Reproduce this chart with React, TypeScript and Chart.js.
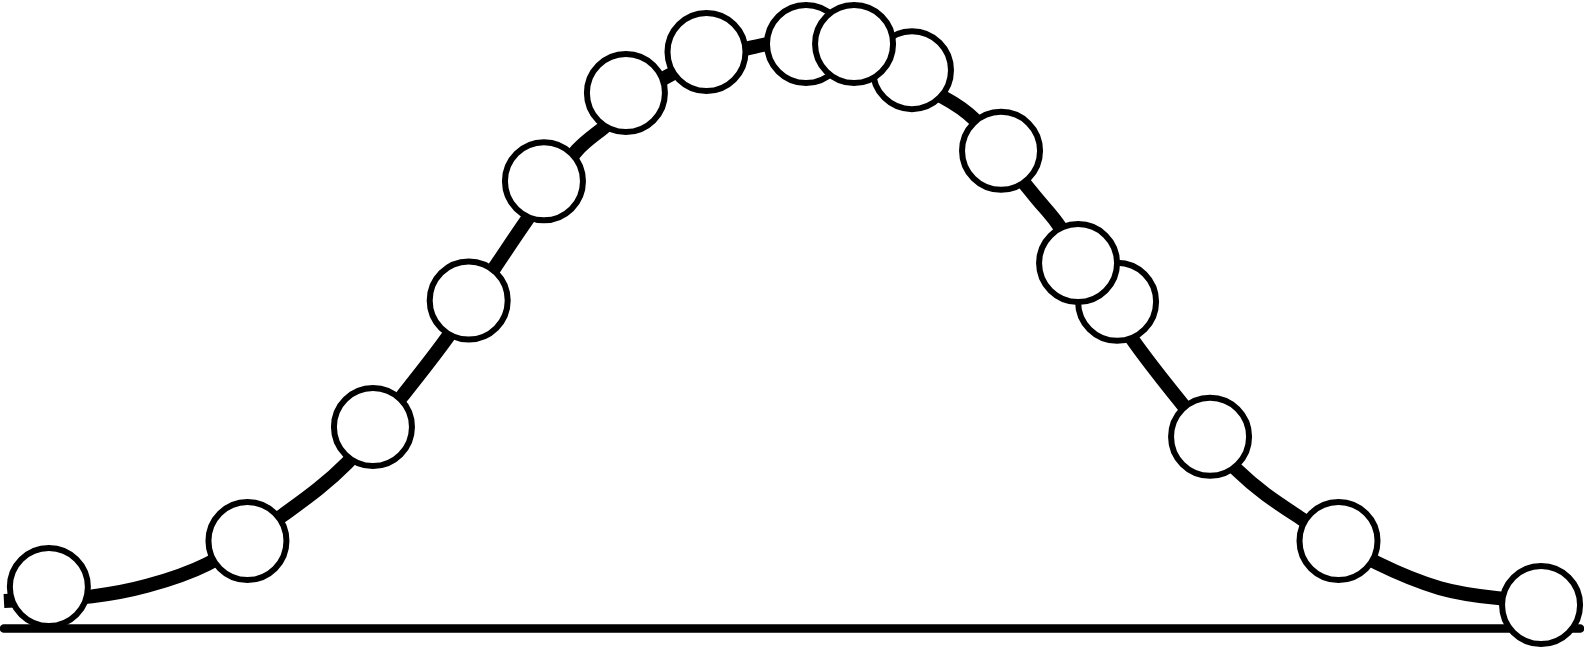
import React, { useEffect, useRef } from "react";
import { Chart, registerables } from "chart.js";

Chart.register(...registerables);

// Smooth curve (x: position units, y: height units)
const curveX = [-4.0, -3.553, -3.274, -2.97, -2.584, -2.259, -1.975, -1.751, -1.508, -1.345, -1.091, -0.959, -0.64, -0.178, 0.0, 0.766, 0.929, 1.183, 1.249, 1.345, 1.731, 1.985, 2.259, 2.594, 2.97, 3.289, 3.584, 4.0];
const curveY = [4.7, 5.5, 7.3, 11.0, 19.4, 28.3, 39.9, 49.7, 61.8, 69.9, 81.8, 85.6, 94.3, 99.6, 100.4, 90.9, 87.0, 76.0, 73.3, 69.4, 49.3, 38.2, 27.1, 18.6, 11.2, 6.9, 5.2, 4.7];

// Sample points (drawn as open circles), in drawing order
const pointX = [-3.772, -2.764, -2.127, -1.641, -1.259, -0.843, -0.434, 0.071, 0.609, 0.315, 1.061, 1.65, 1.452, 2.122, 2.774, 3.802];
const pointY = [7.1, 14.96, 34.46, 56.1, 76.5, 91.6, 98.6, 99.97, 95.5, 99.97, 81.7, 55.9, 62.5, 32.8, 14.96, 4.02];

// Baseline end points
const baseX = [-4.0, 4.0];
const baseY = [0, 0];

export default function App() {
  const ref = useRef<HTMLCanvasElement | null>(null);

  useEffect(() => {
    if (!ref.current) return;
    const chart = new Chart(ref.current, {
      type: "line",
      data: {
        datasets: [
          {
            label: "samples",
            data: pointX.map((x, i) => ({ x, y: pointY[i] })),
            showLine: false,
            pointRadius: 39,
            pointHoverRadius: 39,
            pointBorderWidth: 6,
            pointBackgroundColor: "#ffffff",
            pointBorderColor: "#000000",
            order: 0,
            clip: false,
          },
          {
            label: "curve",
            data: curveX.map((x, i) => ({ x, y: curveY[i] })),
            borderColor: "#000000",
            borderWidth: 14,
            pointRadius: 0,
            cubicInterpolationMode: "monotone",
            fill: false,
            borderCapStyle: "butt",
            order: 1,
            clip: false,
          },
          {
            label: "baseline",
            data: baseX.map((x, i) => ({ x, y: baseY[i] })),
            borderColor: "#000000",
            borderWidth: 8.5,
            pointRadius: 0,
            borderCapStyle: "round",
            fill: false,
            order: 2,
            clip: false,
          },
        ],
      },
      options: {
        animation: false,
        responsive: true,
        maintainAspectRatio: false,
        devicePixelRatio: 1,
        layout: { padding: 0, autoPadding: false },
        plugins: {
          legend: { display: false },
          tooltip: { enabled: false },
          title: { display: false },
        },
        events: [],
        scales: {
          x: { type: "linear", min: -4.02, max: 4.02, display: false },
          y: { type: "linear", min: -3.5, max: 107.5, display: false },
        },
      },
    });
    return () => chart.destroy();
  }, []);

  return (
    <div
      style={{
        position: "fixed",
        left: 0,
        top: 0,
        width: "1584px",
        height: "649px",
        background: "#ffffff",
      }}
    >
      <canvas ref={ref} />
    </div>
  );
}
